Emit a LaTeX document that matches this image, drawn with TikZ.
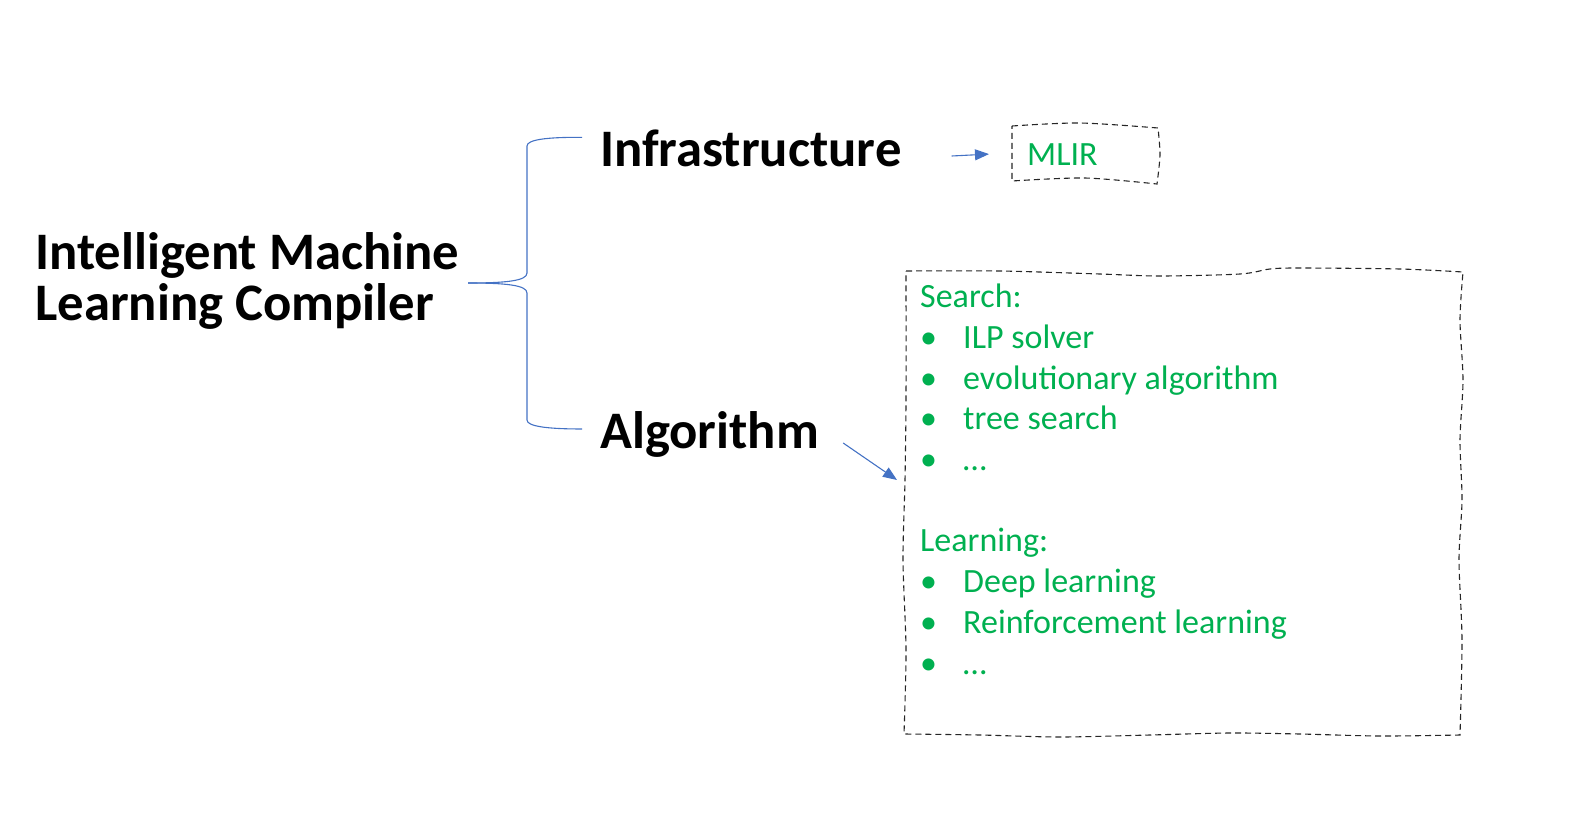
\documentclass[tikz,border=0pt]{standalone}
\usepackage{fontspec}
\setmainfont{Carlito}
\usetikzlibrary{arrows.meta,calc}
\definecolor{ogreen}{HTML}{00B050}
\definecolor{oblue}{HTML}{4472C4}
\begin{document}
\begin{tikzpicture}[x=1pt,y=-1pt,
 title/.style={font=\fontsize{52.7}{50.6}\selectfont\bfseries, inner sep=0pt, align=left},
 gtext/.style={font=\fontsize{34}{40.7}\selectfont, text=ogreen, inner sep=0pt, align=left},
 bracel/.style={draw=oblue, line width=1.1pt},
 arr/.style={draw=oblue, line width=1.1pt, -{Triangle[length=14pt,width=11pt]}},
 wavy/.style={draw=black!85, line width=1.1pt, dash pattern=on 6pt off 4pt}]
\useasboundingbox (0,0) rectangle (1585,827);
\node[title, anchor=west] (main) at (35,281) {Intelligent Machine\\Learning Compiler};
\node[title, anchor=base west] (infra) at (600,166) {Infrastructure};
\node[title, anchor=base west] (algo) at (600,448) {Algorithm};
% brace
\coordinate (tip) at (468,283);
\draw[bracel] (tip) .. controls (505,283) and (527,281) .. (527,273) -- (527,146)
  .. controls (527,140) and (545,137) .. ([xshift=-18pt,yshift=10.5pt]infra.west);
\draw[bracel] (tip) .. controls (505,283) and (527,285) .. (527,293) -- (527,420)
  .. controls (527,426) and (545,429) .. ([xshift=-18pt,yshift=5pt]algo.west);
% MLIR
\node[gtext, anchor=base west] (mlir) at (1027,165) {MLIR};
\draw[wavy] plot[smooth] coordinates {(1012,126) (1080,123) (1158,128)}
  -- plot[smooth] coordinates {(1158,128) (1160,155) (1157,184)}
  -- plot[smooth] coordinates {(1157,184) (1085,178) (1012,181)} -- cycle;
\draw[arr] ([xshift=50pt,yshift=10pt]infra.base east) -- ([xshift=-38pt]mlir.west);
% algorithm box
\node[gtext, anchor=base west] (alist) at (920,674)
 {Search:\\
  \makebox[43pt][l]{\textbullet}ILP solver\\
  \makebox[43pt][l]{\textbullet}evolutionary algorithm\\
  \makebox[43pt][l]{\textbullet}tree search\\
  \makebox[43pt][l]{\textbullet}…\\[40.7pt]
  Learning:\\
  \makebox[43pt][l]{\textbullet}Deep learning\\
  \makebox[43pt][l]{\textbullet}Reinforcement learning\\
  \makebox[43pt][l]{\textbullet}…};
\draw[wavy] plot[smooth] coordinates {(906,271) (1000,271) (1100,274) (1160,276) (1240,274) (1270,269) (1300,268) (1400,269) (1463,272)}
  -- plot[smooth] coordinates {(1463,272) (1460,320) (1463,380) (1460,440) (1462,500) (1459,560) (1462,640) (1460,735)}
  -- plot[smooth] coordinates {(1460,735) (1380,736) (1300,734) (1230,733) (1150,735) (1060,737) (980,735) (904,734)}
  -- plot[smooth] coordinates {(904,734) (906,650) (903,560) (905,480) (906,400) (906,271)};
\coordinate (a2end) at (897,480);
\draw[arr] ([xshift=24pt,yshift=5pt]algo.base east) -- (a2end);
\end{tikzpicture}
\end{document}
